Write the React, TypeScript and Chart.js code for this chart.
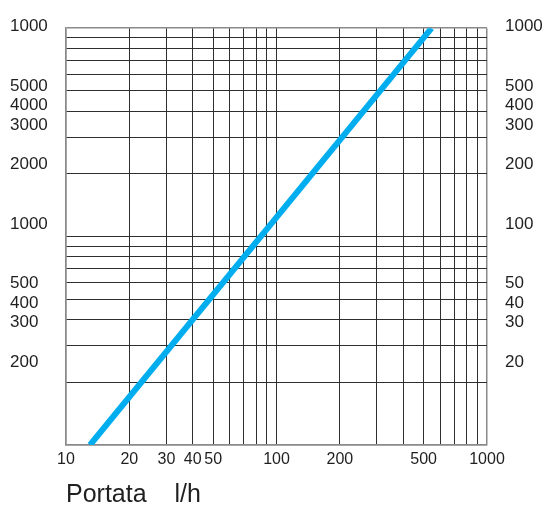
import React, { useEffect, useRef } from 'react';
import { Chart, registerables } from 'chart.js';

Chart.register(...registerables);

// ---- data ----
const portata = [13, 545]; // l/h
const perdita = [100, 10000];

const xGridValues = [10, 20, 30, 40, 50, 60, 70, 80, 90, 100, 200, 300, 400, 500, 600, 700, 800, 900, 1000];
const xTickLabels = [10, 20, 30, 40, 50, 100, 200, 500, 1000];

const yGridValues = [
  100, 200, 300, 400, 500, 600, 700, 800, 900,
  1000, 2000, 3000, 4000, 5000, 6000, 7000, 8000, 9000, 10000,
];
const leftLabels = ['1000', '5000', '4000', '3000', '2000', '1000', '500', '400', '300', '200'];
const rightLabels = ['1000', '500', '400', '300', '200', '100', '50', '40', '30', '20'];

// ---- layout of the stacked side labels (text rows) ----
const LABEL_ROWS = [0, 3, 4, 5, 7, 10, 13, 14, 15, 17];
const ROW_MIN = 0.08;
const ROW_MAX = 21.2;

const FAMILY = "'Liberation Sans', Arial, Helvetica, sans-serif";
const INK = '#1f1f1f';
const GRID = '#2e2e2e';
const EDGE = '#8a8a8a';
const LINE = '#00AEEF';

export default function App() {
  const ref = useRef<HTMLCanvasElement | null>(null);

  useEffect(() => {
    if (!ref.current) return;
    const isEdge = (v: number, arr: number[]) => v === arr[0] || v === arr[arr.length - 1];

    const chart = new Chart(ref.current, {
      type: 'line',
      data: {
        datasets: [
          {
            data: portata.map((x, i) => ({ x, y: perdita[i] })),
            borderColor: LINE,
            backgroundColor: LINE,
            borderWidth: 6,
            pointRadius: 0,
            tension: 0,
            xAxisID: 'x',
            yAxisID: 'y',
          },
        ],
      },
      options: {
        responsive: false,
        animation: false,
        events: [],
        layout: { padding: { left: 10, top: 25, right: 0, bottom: 0 } },
        plugins: { legend: { display: false }, tooltip: { enabled: false } },
        scales: {
          x: {
            type: 'logarithmic',
            position: 'bottom',
            min: 10,
            max: 1000,
            afterBuildTicks: (s: any) => {
              s.ticks = xGridValues.map((v) => ({ value: v }));
            },
            afterFit: (s: any) => {
              s.height = 62;
            },
            grid: {
              color: (c: any) => (isEdge(c.tick?.value, xGridValues) ? EDGE : GRID),
              lineWidth: (c: any) => (isEdge(c.tick?.value, xGridValues) ? 1.5 : 1),
              drawTicks: false,
            },
            border: { display: true, color: EDGE, width: 1.5 },
            ticks: {
              autoSkip: false,
              maxRotation: 0,
              minRotation: 0,
              padding: 5,
              color: INK,
              font: { family: FAMILY, size: 16 },
              callback: (v: any) => (xTickLabels.includes(Number(v)) ? String(v) : ''),
            },
            title: {
              display: true,
              text: 'Portata    l/h',
              align: 'start',
              color: INK,
              font: { family: FAMILY, size: 25, lineHeight: 1 },
              padding: { top: 0, bottom: -1 },
            },
          },
          y: {
            type: 'logarithmic',
            position: 'left',
            weight: 0,
            min: 100,
            max: 10000,
            afterBuildTicks: (s: any) => {
              s.ticks = yGridValues.map((v) => ({ value: v }));
            },
            afterFit: (s: any) => {
              s.width = 0;
            },
            grid: {
              color: (c: any) => (isEdge(c.tick?.value, yGridValues) ? EDGE : GRID),
              lineWidth: (c: any) => (isEdge(c.tick?.value, yGridValues) ? 1.5 : 1),
              drawTicks: false,
            },
            border: { display: true, color: EDGE, width: 1.5 },
            ticks: { display: false },
          },
          yl: {
            type: 'linear',
            position: 'left',
            weight: 1,
            reverse: true,
            min: ROW_MIN,
            max: ROW_MAX,
            afterBuildTicks: (s: any) => {
              s.ticks = LABEL_ROWS.map((v) => ({ value: v }));
            },
            afterFit: (s: any) => {
              s.width = 56;
            },
            grid: { display: false, drawTicks: false },
            border: { display: false },
            ticks: {
              autoSkip: false,
              crossAlign: 'far',
              padding: 0,
              color: INK,
              font: { family: FAMILY, size: 17 },
              callback: (_v: any, i: number) => leftLabels[i],
            },
          },
          yr: {
            type: 'linear',
            position: 'right',
            weight: 1,
            reverse: true,
            min: ROW_MIN,
            max: ROW_MAX,
            afterBuildTicks: (s: any) => {
              s.ticks = LABEL_ROWS.map((v) => ({ value: v }));
            },
            afterFit: (s: any) => {
              s.width = 60;
            },
            grid: { display: false, drawTicks: false },
            border: { display: false },
            ticks: {
              autoSkip: false,
              crossAlign: 'near',
              padding: 18,
              color: INK,
              font: { family: FAMILY, size: 17 },
              callback: (_v: any, i: number) => rightLabels[i],
            },
          },
        },
      } as any,
    });

    return () => chart.destroy();
  }, []);

  return (
    <div style={{ position: 'absolute', left: 0, top: 0, width: 547, height: 507, background: '#ffffff' }}>
      <canvas ref={ref} width={547} height={507} style={{ display: 'block', width: 547, height: 507 }} />
    </div>
  );
}
